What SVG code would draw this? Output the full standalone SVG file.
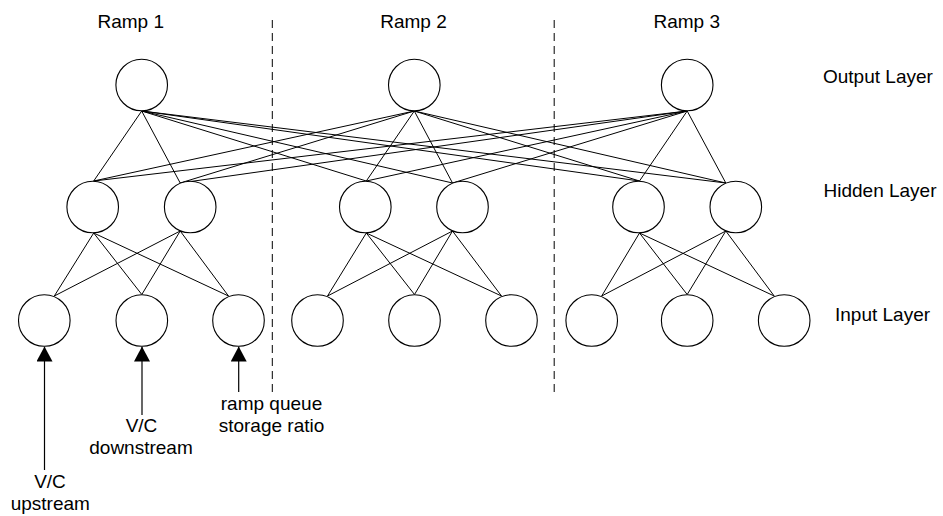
<svg xmlns="http://www.w3.org/2000/svg" width="943" height="516" viewBox="0 0 943 516">
<style>
.n{fill:#fff;stroke:#000;stroke-width:1.1}
.c{stroke:#000;stroke-width:1;fill:none}
.d{stroke:#000;stroke-width:1;stroke-dasharray:8,5;fill:none}
.a{stroke:#000;stroke-width:1.2;fill:none}
text{font-family:"Liberation Sans",Arial,sans-serif;font-size:19px;fill:#000}
.m{text-anchor:middle}
</style>
<defs>
<marker id="ah" viewBox="0 0 15 16" refX="15" refY="8" markerWidth="15" markerHeight="16" markerUnits="userSpaceOnUse" orient="auto">
<path d="M0,0 L15,8 L0,16 z" fill="#000"/>
</marker>
</defs>
<rect width="943" height="516" fill="#fff"/>
<g id="dividers">
<line class="d" x1="272.3" y1="20" x2="272.3" y2="392"/>
<line class="d" x1="554.2" y1="20" x2="554.2" y2="392"/>
</g>
<g id="connectors">
<!-- output 1 to hidden -->
<line class="c" x1="141.7" y1="111" x2="93.7" y2="181"/>
<line class="c" x1="141.7" y1="111" x2="180.2" y2="183"/>
<line class="c" x1="141.7" y1="111" x2="366.3" y2="181"/>
<line class="c" x1="141.7" y1="111" x2="452.5" y2="183"/>
<line class="c" x1="141.7" y1="111" x2="639.5" y2="181"/>
<line class="c" x1="141.7" y1="111" x2="725.8" y2="183"/>
<!-- output 2 to hidden -->
<line class="c" x1="414.3" y1="111" x2="93.7" y2="181"/>
<line class="c" x1="414.3" y1="111" x2="180.2" y2="183"/>
<line class="c" x1="414.3" y1="111" x2="366.3" y2="181"/>
<line class="c" x1="414.3" y1="111" x2="452.5" y2="183"/>
<line class="c" x1="414.3" y1="111" x2="639.5" y2="181"/>
<line class="c" x1="414.3" y1="111" x2="725.8" y2="183"/>
<!-- output 3 to hidden -->
<line class="c" x1="687.2" y1="111" x2="93.7" y2="181"/>
<line class="c" x1="687.2" y1="111" x2="180.2" y2="183"/>
<line class="c" x1="687.2" y1="111" x2="366.3" y2="181"/>
<line class="c" x1="687.2" y1="111" x2="452.5" y2="183"/>
<line class="c" x1="687.2" y1="111" x2="639.5" y2="181"/>
<line class="c" x1="687.2" y1="111" x2="725.8" y2="183"/>
<!-- ramp 1 hidden to input -->
<line class="c" x1="93.7" y1="233" x2="54.3" y2="296"/>
<line class="c" x1="93.7" y1="233" x2="141.8" y2="294.5"/>
<line class="c" x1="93.7" y1="233" x2="228.5" y2="296"/>
<line class="c" x1="180.2" y1="231" x2="54.3" y2="296"/>
<line class="c" x1="180.2" y1="231" x2="141.8" y2="294.5"/>
<line class="c" x1="180.2" y1="231" x2="228.5" y2="296"/>
<!-- ramp 2 hidden to input -->
<line class="c" x1="366.3" y1="233" x2="327.5" y2="296"/>
<line class="c" x1="366.3" y1="233" x2="414.5" y2="294.5"/>
<line class="c" x1="366.3" y1="233" x2="501.5" y2="296"/>
<line class="c" x1="452.5" y1="231" x2="327.5" y2="296"/>
<line class="c" x1="452.5" y1="231" x2="414.5" y2="294.5"/>
<line class="c" x1="452.5" y1="231" x2="501.5" y2="296"/>
<!-- ramp 3 hidden to input -->
<line class="c" x1="639.5" y1="233" x2="601.7" y2="296"/>
<line class="c" x1="639.5" y1="233" x2="687.2" y2="294.5"/>
<line class="c" x1="639.5" y1="233" x2="774.2" y2="296"/>
<line class="c" x1="725.8" y1="231" x2="601.7" y2="296"/>
<line class="c" x1="725.8" y1="231" x2="687.2" y2="294.5"/>
<line class="c" x1="725.8" y1="231" x2="774.2" y2="296"/>
<!-- input arrows -->
<line class="a" x1="44.5" y1="470" x2="44.5" y2="346.5" marker-end="url(#ah)"/>
<line class="a" x1="142" y1="415" x2="142" y2="346.5" marker-end="url(#ah)"/>
<line class="a" x1="238.7" y1="392" x2="238.7" y2="346.5" marker-end="url(#ah)"/>
</g>
<g id="out1"><circle class="n" cx="141.7" cy="85" r="25.8"/></g>
<g id="out2"><circle class="n" cx="414.3" cy="85" r="25.8"/></g>
<g id="out3"><circle class="n" cx="687.2" cy="85" r="25.8"/></g>
<g id="hid1a"><circle class="n" cx="92.7" cy="207" r="25.8"/></g>
<g id="hid1b"><circle class="n" cx="190.2" cy="207" r="25.8"/></g>
<g id="hid2a"><circle class="n" cx="365.3" cy="207" r="25.8"/></g>
<g id="hid2b"><circle class="n" cx="462.5" cy="207" r="25.8"/></g>
<g id="hid3a"><circle class="n" cx="638.5" cy="207" r="25.8"/></g>
<g id="hid3b"><circle class="n" cx="735.8" cy="207" r="25.8"/></g>
<g id="in1a"><circle class="n" cx="44.3" cy="320.5" r="25.8"/></g>
<g id="in1b"><circle class="n" cx="141.8" cy="320.5" r="25.8"/></g>
<g id="in1c"><circle class="n" cx="238.5" cy="320.5" r="25.8"/></g>
<g id="in2a"><circle class="n" cx="317.5" cy="320.5" r="25.8"/></g>
<g id="in2b"><circle class="n" cx="414.5" cy="320.5" r="25.8"/></g>
<g id="in2c"><circle class="n" cx="511.5" cy="320.5" r="25.8"/></g>
<g id="in3a"><circle class="n" cx="591.7" cy="320.5" r="25.8"/></g>
<g id="in3b"><circle class="n" cx="687.2" cy="320.5" r="25.8"/></g>
<g id="in3c"><circle class="n" cx="784.2" cy="320.5" r="25.8"/></g>
<g id="labels">
<text class="m" x="130.7" y="28">Ramp 1</text>
<text class="m" x="413.5" y="28">Ramp 2</text>
<text class="m" x="686.7" y="28">Ramp 3</text>
<text x="823" y="83">Output Layer</text>
<text x="823.5" y="197">Hidden Layer</text>
<text x="835" y="320.5">Input Layer</text>
<text class="m" x="271.5" y="410">ramp queue</text>
<text class="m" x="271.5" y="432">storage ratio</text>
<text class="m" x="141.5" y="432">V/C</text>
<text class="m" x="141" y="454">downstream</text>
<text class="m" x="50" y="488">V/C</text>
<text class="m" x="50.3" y="510">upstream</text>
</g>
</svg>
